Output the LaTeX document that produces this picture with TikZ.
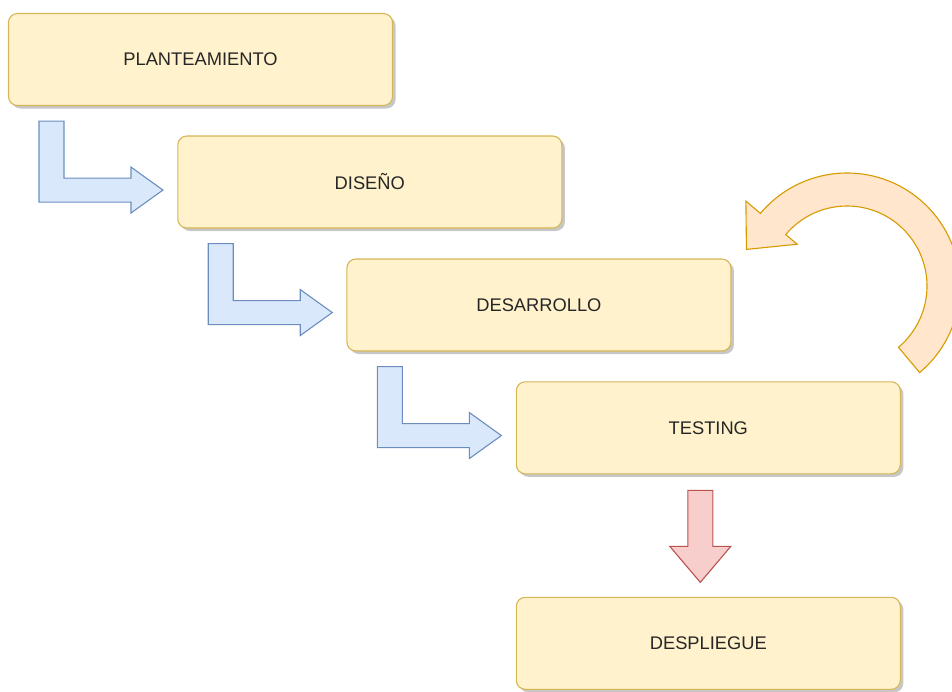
\documentclass[tikz,border=0pt]{standalone}
\usepackage{fontspec}
\setmainfont{Liberation Sans}
\usetikzlibrary{shadows}

\definecolor{stagefill}{HTML}{FFF2CC}
\definecolor{stageline}{HTML}{D6B656}
\definecolor{bluefill}{HTML}{DAE8FC}
\definecolor{blueline}{HTML}{6C8EBF}
\definecolor{redfill}{HTML}{F8CECC}
\definecolor{redline}{HTML}{B85450}
\definecolor{loopfill}{HTML}{FFE6CC}
\definecolor{loopline}{HTML}{D79B00}

\tikzset{
	stage/.style={draw=stageline, fill=stagefill, line width=1.1pt,
		rounded corners=9pt, minimum width=384pt, minimum height=92pt,
		drop shadow={shadow xshift=3pt, shadow yshift=-3pt, fill=black!40, opacity=.55},
		font=\fontsize{18.3}{22}\selectfont, text=black!85},
	bendarrow/.style={draw=blueline, fill=bluefill, line width=1.1pt},
	downarrow/.style={draw=redline, fill=redfill, line width=1.1pt},
	looparrow/.style={draw=loopline, fill=loopfill, line width=1.1pt}
}

\newcommand{\bendarrow}[1]{%
	\draw [bendarrow, shift={(#1.south west)}] (31,-15) -- ++(25,0) -- ++(0,-57)
	-- ++(67,0) -- ++(0,11) -- ++(32,-23) -- ++(-32,-23) -- ++(0,11) -- ++(-92,0) -- cycle;}

\begin{document}
\begin{tikzpicture}[x=1pt, y=1pt]
	\useasboundingbox (0,0) rectangle (952,-691);
	
	\node [stage] (plan) at (200.5,-59.5) {PLANTEAMIENTO};
	\node [stage] (dis)  at (369.8,-182)  {DISEÑO};
	\node [stage] (desa) at (538.9,-305)  {DESARROLLO};
	\node [stage] (test) at (708.3,-427.8) {TESTING};
	\node [stage] (desp) at (708.3,-643.3) {DESPLIEGUE};
	
	% paso de una etapa a la siguiente
	\bendarrow{plan}
	\bendarrow{dis}
	\bendarrow{desa}
	
	\draw [downarrow, shift={(test.south)}] (-20.5,-16) -- ++(25,0) -- ++(0,-56)
	-- ++(18,0) -- ++(-30.5,-36) -- ++(-30.5,36) -- ++(18,0) -- cycle;
	
	% vuelta de testing a desarrollo
	\coordinate (loop) at (847,-286);
	\draw [looparrow] ([shift={(-50:113)}]loop) arc [start angle=-50, end angle=140, radius=113]
	-- ([shift={(140:132)}]loop) -- ([shift={(160:107)}]loop) -- ([shift={(140:65)}]loop)
	-- ([shift={(140:80)}]loop) arc [start angle=140, end angle=-50, radius=80] -- cycle;
\end{tikzpicture}
\end{document}
